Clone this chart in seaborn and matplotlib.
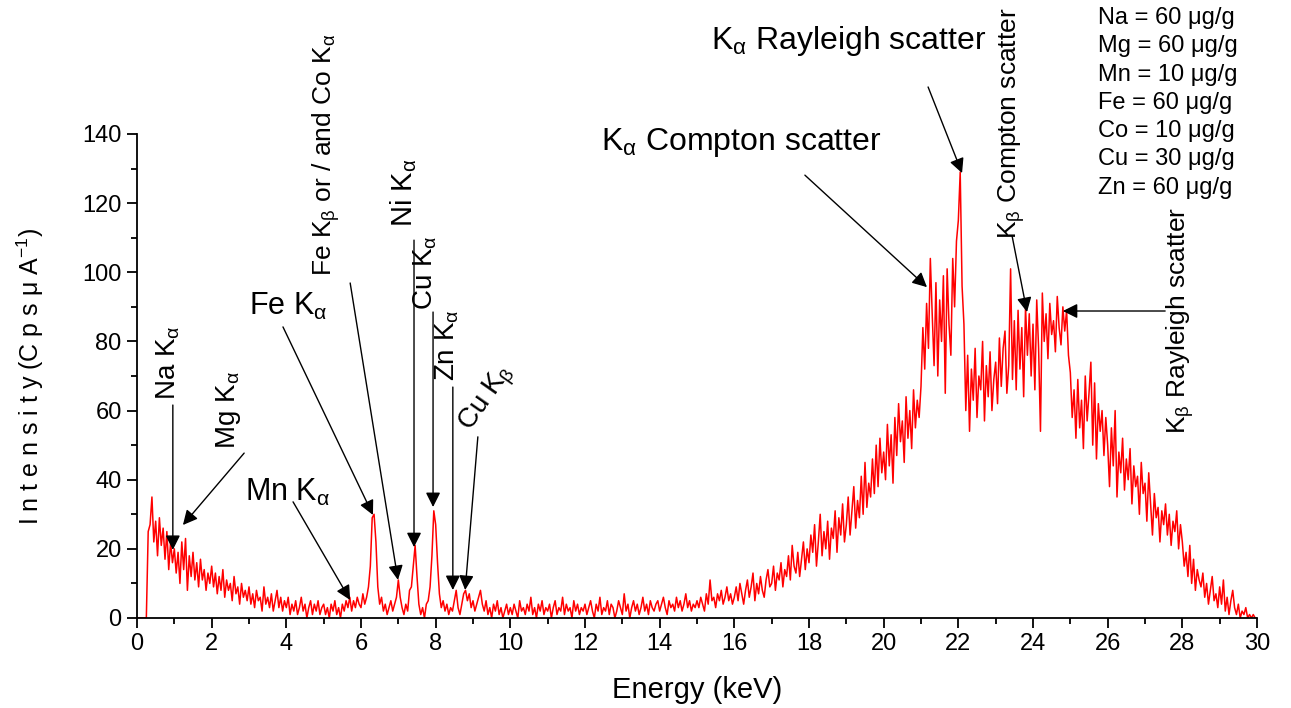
import numpy as np
import pandas as pd
import matplotlib
matplotlib.use("Agg")
import matplotlib.pyplot as plt
import seaborn as sns
from matplotlib.ticker import MultipleLocator

# ---------------- data (intensity per 0.05 keV channel) ----------------
energy_step = 0.05
seg_00 = [0,0,0,0,0,0,25,27,35,22,28,18,29,21,26,17,25,14,22,16]
seg_01 = [20,13,19,10,22,14,23,8,18,12,19,11,16,9,17,11,14,8,13,10]
seg_02 = [15,9,13,7,12,8,14,6,11,8,10,5,12,7,9,4,10,6,8,5]
seg_03 = [9,4,7,3,8,5,6,2,9,4,6,3,7,2,5,8,3,6,2,5]
seg_04 = [3,6,1,4,2,5,1,3,6,2,4,0,3,5,1,4,2,5,1,3]
seg_05 = [4,1,3,0,4,2,5,1,3,0,4,2,5,3,6,2,5,3,6,4]
seg_06 = [3,7,4,6,9,15,29,30,22,9,4,6,2,4,1,3,5,2,4,6]
seg_07 = [11,6,3,1,4,2,8,9,15,21,12,4,1,3,0,4,5,9,18,31]
seg_08 = [27,16,7,3,5,2,4,1,3,2,5,8,3,1,4,7,8,5,7,3]
seg_09 = [5,2,4,6,8,4,2,5,1,3,0,4,2,5,1,3,0,2,4,1]
seg_10 = [3,1,4,2,0,5,2,3,1,4,2,6,1,3,0,4,2,5,1,3]
seg_11 = [2,4,0,3,5,1,3,2,6,1,4,2,3,0,5,2,4,1,3,2]
seg_12 = [4,1,3,5,2,0,4,2,6,1,3,2,5,1,4,3,0,2,5,3]
seg_13 = [1,7,2,4,0,3,5,2,4,1,3,6,2,4,1,5,3,2,4,5]
seg_14 = [2,4,6,3,1,5,3,4,2,6,3,5,2,4,7,3,5,2,4,3]
seg_15 = [5,3,6,4,2,7,4,11,5,6,3,7,5,8,4,6,9,5,7,4]
seg_16 = [6,9,5,10,7,4,8,11,6,9,13,5,10,7,12,8,6,11,14,9]
seg_17 = [10,15,8,13,11,16,9,14,12,18,11,21,15,13,19,12,17,22,14,20]
seg_18 = [16,24,19,27,15,22,30,18,25,20,28,17,26,23,31,19,29,24,33,22]
seg_19 = [27,35,24,31,38,26,34,29,41,30,45,32,39,35,46,36,50,38,52,42]
seg_20 = [48,40,56,44,53,39,58,47,62,51,57,45,64,52,60,49,66,55,63,58]
seg_21 = [67,84,72,91,78,104,88,73,97,70,92,80,99,65,101,85,76,104,90,109]
seg_22 = [115,129,96,85,60,76,54,72,63,78,58,70,66,80,57,73,64,77,60,69]
seg_23 = [74,62,81,67,78,83,65,73,101,69,86,66,89,72,84,64,90,76,88,70]
seg_24 = [85,66,92,78,54,94,80,88,75,91,82,86,77,93,84,79,90,83,89,76]
seg_25 = [71,58,66,52,69,55,63,49,70,57,65,74,50,68,46,62,54,60,47,58]
seg_26 = [50,38,55,44,60,35,48,42,52,37,46,40,49,33,44,38,41,30,45,36]
seg_27 = [39,28,42,33,24,36,29,32,22,31,27,33,24,30,21,28,25,31,20,27]
seg_28 = [22,15,19,12,21,10,17,8,14,11,9,13,6,10,4,8,12,5,7,3]
seg_29 = [9,4,11,2,6,1,5,8,3,1,4,0,2,1,3,0,1,0,1,0]
seg_30 = [0]

segments = [seg_00, seg_01, seg_02, seg_03, seg_04, seg_05, seg_06, seg_07, seg_08, seg_09,
            seg_10, seg_11, seg_12, seg_13, seg_14, seg_15, seg_16, seg_17, seg_18, seg_19,
            seg_20, seg_21, seg_22, seg_23, seg_24, seg_25, seg_26, seg_27, seg_28, seg_29, seg_30]
intensity = np.concatenate([np.array(s, dtype=float) for s in segments])
energy = np.arange(len(intensity)) * energy_step

concentration_lines = ["Na = 60 \u03bcg/g", "Mg = 60 \u03bcg/g", "Mn = 10 \u03bcg/g",
                       "Fe = 60 \u03bcg/g", "Co = 10 \u03bcg/g", "Cu = 30 \u03bcg/g",
                       "Zn = 60 \u03bcg/g"]

x_ticks = list(range(0, 31, 2))
y_ticks = list(range(0, 141, 20))

df = pd.DataFrame({"Energy": energy, "Intensity": intensity})

# ---------------- style ----------------
sns.set_style("ticks")
plt.rcParams["font.family"] = ["Liberation Sans", "DejaVu Sans"]
plt.rcParams["mathtext.fontset"] = "custom"
plt.rcParams["mathtext.rm"] = "Liberation Sans"
plt.rcParams["mathtext.it"] = "Liberation Sans:italic"
plt.rcParams["mathtext.bf"] = "Liberation Sans:bold"
for k in ["text.color", "axes.labelcolor", "xtick.color", "ytick.color", "axes.edgecolor"]:
    plt.rcParams[k] = "black"

fig = plt.figure(figsize=(12.91, 7.08), dpi=100)
ax = fig.add_axes([137/1291, 1-618/708, (1257-137)/1291, (618-134)/708])

sns.lineplot(data=df, x="Energy", y="Intensity", color="#ff0000", linewidth=1.1, ax=ax)

ax.set_xlim(0, 30)
ax.set_ylim(0, 140)
ax.set_xticks(x_ticks)
ax.set_yticks(y_ticks)
ax.xaxis.set_minor_locator(MultipleLocator(1))
ax.yaxis.set_minor_locator(MultipleLocator(10))
ax.tick_params(axis="both", which="major", direction="out", length=7, width=1.3,
               labelsize=17, colors="black", pad=4)
ax.tick_params(axis="both", which="minor", direction="out", length=4, width=1.3)
for s in ["top", "right"]:
    ax.spines[s].set_visible(False)
for s in ["left", "bottom"]:
    ax.spines[s].set_linewidth(1.3)
    ax.spines[s].set_color("black")
ax.set_xlabel("")
ax.set_ylabel("")

fig.text(697/1291, 1-690/708, "Energy (keV)", fontsize=21, ha="center", va="center")
fig.text(30/1291, 1-376/708, "I n t e n s i t y (C p s \u03bc A$^{-1}$)", fontsize=18,
         rotation=90, ha="center", va="center")

def arrow(x0, y0, x1, y1):
    ax.annotate("", xy=(x1, y1), xytext=(x0, y0), xycoords="data", textcoords="data",
                annotation_clip=False,
                arrowprops=dict(arrowstyle="-|>", color="black", lw=1.0,
                                mutation_scale=22, shrinkA=0, shrinkB=0))

def label(x, y, s, size, rot=0):
    ax.text(x, y, s, fontsize=size, rotation=rot, ha="center", va="center",
            clip_on=False, rotation_mode="anchor")

A = "K$_\\mathrm{\\alpha}$"
B = "K$_\\mathrm{\\beta}$"

label(0.83, 73.8, "Na " + A, 20, 90);      arrow(0.96, 61.6, 0.96, 19.7)
label(2.44, 60.0, "Mg " + A, 20, 90);      arrow(2.87, 47.7, 1.23, 26.9)
label(4.04, 90.2, "Fe " + A, 22);          arrow(3.91, 84.2, 6.32, 29.8)
label(4.04, 36.2, "Mn " + A, 22);          arrow(4.18, 33.6, 5.71, 5.2)
label(5.06, 134.0, "Fe " + B + " or / and Co " + A, 19, 90); arrow(5.71, 96.9, 6.99, 11.0)
label(7.15, 123.0, "Ni " + A, 21, 90);     arrow(7.42, 109.3, 7.42, 20.5)
label(7.71, 100.0, "Cu " + A, 20, 90);     arrow(7.93, 88.5, 7.93, 32.1)
label(8.30, 79.0, "Zn " + A, 20, 90);      arrow(8.46, 66.8, 8.46, 8.1)
label(9.40, 63.6, "Cu " + B, 20, 55);      arrow(9.13, 52.4, 8.79, 8.1)
label(16.18, 137.4, A + " Compton scatter", 23); arrow(17.89, 128.1, 21.16, 95.7)
label(19.07, 166.9, A + " Rayleigh scatter", 23); arrow(21.19, 153.6, 22.10, 128.7)
label(23.44, 143.2, B + " Compton scatter", 19, 90); arrow(23.44, 110.5, 23.84, 88.5)
label(27.94, 86.2, B + " Rayleigh scatter", 19, 90); arrow(27.54, 88.8, 24.80, 88.8)

for i, line in enumerate(concentration_lines):
    fig.text(1098/1291, 1-(18+28.3*i)/708, line, fontsize=17, ha="left", va="center")

fig.savefig("out.png", dpi=100)
